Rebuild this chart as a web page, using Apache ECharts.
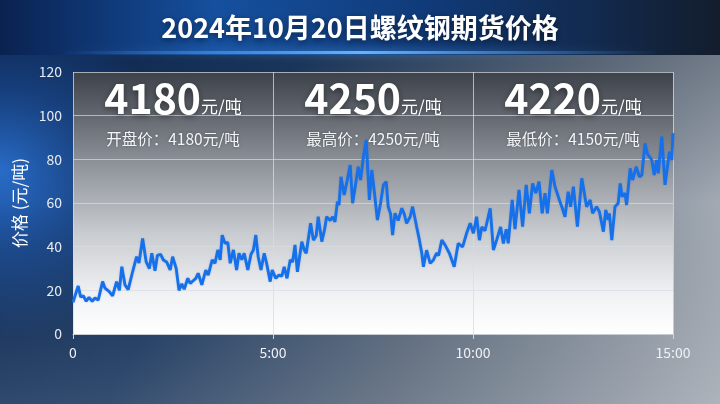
<!DOCTYPE html>
<html>
<head>
<meta charset="utf-8">
<script src="https://cdn.jsdelivr.net/npm/echarts@6/dist/echarts.min.js"></script>
<style>
html,body{margin:0;padding:0;background:#0c2550;}
#chart{width:720px;height:404px;}
</style>
</head>
<body>
<div id="chart"></div>
<script>
// ---- data ----
const chartTitle = '2024年10月20日螺纹钢期货价格';
const yAxisName = '价格 (元/吨)';
const xTicks = [0, 5, 10, 15];
const xTickLabels = ['0', '5:00', '10:00', '15:00'];
const yTicks = [0, 20, 40, 60, 80, 100, 120];
const bigValues = ['4180', '4250', '4220'];
const bigUnit = '元/吨';
const subLabels = ['开盘价：4180元/吨', '最高价：4250元/吨', '最低价：4150元/吨'];

const times = [
  0, 0.06, 0.13, 0.19, 0.26, 0.33, 0.40, 0.48, 0.55, 0.63, 0.74, 0.80, 0.90, 0.99, 1.09, 1.16, 1.22, 1.30, 1.38, 1.49,
  1.59, 1.65, 1.74, 1.83, 1.91, 1.97, 2.05, 2.11, 2.19, 2.26, 2.34, 2.43, 2.49, 2.58, 2.65, 2.72, 2.78, 2.87, 2.93, 3.01,
  3.07, 3.13, 3.22, 3.32, 3.38, 3.48, 3.55, 3.62, 3.68, 3.73, 3.80, 3.87, 3.93, 4.01, 4.09, 4.15, 4.22, 4.28, 4.37, 4.45,
  4.51, 4.57, 4.63, 4.70, 4.78, 4.84, 4.93, 4.98, 5.07, 5.15, 5.22, 5.28, 5.35, 5.43, 5.49, 5.55, 5.61, 5.72, 5.78, 5.83,
  5.94, 6.01, 6.08, 6.13, 6.22, 6.29, 6.34, 6.43, 6.49, 6.55, 6.61, 6.65, 6.70, 6.78, 6.85, 6.93, 6.99, 7.06, 7.13, 7.19,
  7.26, 7.33, 7.41, 7.47, 7.54, 7.61, 7.69, 7.76, 7.83, 7.88, 7.94, 7.99, 8.05, 8.13, 8.22, 8.28, 8.34, 8.43, 8.49, 8.59,
  8.65, 8.72, 8.76, 8.84, 8.93, 9.01, 9.09, 9.14, 9.22, 9.30, 9.41, 9.53, 9.63, 9.74, 9.84, 9.93, 10.01, 10.09, 10.16, 10.22,
  10.30, 10.35, 10.43, 10.51, 10.59, 10.69, 10.76, 10.83, 10.88, 10.98, 11.05, 11.15, 11.24, 11.33, 11.41, 11.49, 11.57, 11.65, 11.73, 11.80,
  11.86, 11.97, 12.05, 12.16, 12.22, 12.30, 12.38, 12.44, 12.51, 12.61, 12.72, 12.84, 12.93, 12.99, 13.09, 13.16, 13.26, 13.32, 13.38, 13.41,
  13.47, 13.55, 13.63, 13.68, 13.73, 13.80, 13.84, 13.93, 13.99, 14.08, 14.16, 14.22, 14.30, 14.36, 14.41, 14.47, 14.53, 14.59, 14.63, 14.72,
  14.80, 14.84, 14.91, 14.97, 15.00
];
const prices = [
  14.5, 18, 22, 17, 17.5, 15, 16.8, 15, 16.5, 15.5, 24, 21, 19.5, 17.5, 24, 20, 30.8, 22.5, 20.3, 28.5,
  35.4, 32.5, 43.8, 33, 30, 37, 29, 36, 36.5, 33.9, 33, 29.3, 35.4, 30, 20, 23, 20.5, 25.5, 23.2, 24.5,
  25.5, 27.8, 22.5, 29.3, 27, 33.9, 32.4, 38.5, 33.9, 45.3, 41.5, 42, 32.4, 38.5, 29.3, 37, 34, 37, 29.3, 36.5,
  38.5, 45.3, 35.4, 29.3, 37, 32.4, 24, 29.3, 25.5, 27, 26.5, 30.8, 25.5, 33.9, 33, 40.8, 28.5, 42.3, 38.5, 37,
  50.7, 43, 45, 53.7, 42.3, 48, 53.7, 52, 53.7, 51.4, 60.6, 59, 72, 63.7, 70, 77.4, 59.9, 68, 76.6, 70.5,
  81.2, 88.9, 61.4, 75.1, 64, 52.2, 60, 68.3, 69.8, 58.3, 55, 45.3, 55.3, 52, 57.6, 55, 50.7, 53.7, 58.3, 49.2,
  44, 37, 30.8, 38.4, 32.4, 33.9, 37, 36, 43, 40.8, 37, 30.8, 41.5, 39.9, 46.1, 50.7, 46.1, 53.7, 43, 49,
  47.3, 48, 57.6, 38.5, 43, 49, 41.5, 48, 41.5, 61.4, 48, 66, 49.2, 68.3, 55.3, 69, 64.5, 69.8, 55.3, 64.5,
  55.3, 75.1, 67.5, 61.4, 58.3, 53.7, 65.2, 58.3, 67.5, 49.2, 71.3, 58.3, 61.4, 55.3, 58.3, 56, 46.9, 56.8, 52.2, 55.3,
  43, 58.3, 59.9, 69, 62.9, 64.5, 59.1, 75.9, 70.5, 76.6, 72, 72.8, 87.3, 82.7, 81.2, 79.7, 72.8, 79.7, 73.6, 90.4,
  68.3, 69, 83.5, 79.7, 92
];
// --------------------------------------

const seriesData = times.map((t, i) => [t, prices[i]]);
const FONT = '"Noto Sans CJK SC", "Noto Sans", sans-serif';
const chart = echarts.init(document.getElementById('chart'), null, {renderer: 'canvas'});

const colCenters = [173, 373, 573];
const overlay = [];
bigValues.forEach((v, i) => {
  overlay.push({
    type: 'text', x: colCenters[i], y: 119, z: 100,
    style: {
      text: '{a|' + v + '}{b|' + bigUnit + '}',
      align: 'center', verticalAlign: 'bottom',
      rich: {
        a: {fontSize: 41, fontWeight: 'bold', fill: '#ffffff', fontFamily: FONT, verticalAlign: 'bottom', lineHeight: 46,
            textShadowColor: 'rgba(0,0,0,0.45)', textShadowBlur: 6, textShadowOffsetY: 2},
        b: {fontSize: 17, fill: '#ffffff', fontFamily: FONT, verticalAlign: 'bottom', lineHeight: 46, padding: [0, 0, 4, 0],
            textShadowColor: 'rgba(0,0,0,0.4)', textShadowBlur: 4}
      }
    }
  });
  overlay.push({
    type: 'text', x: colCenters[i], y: 139, z: 100,
    style: {
      text: subLabels[i], align: 'center', verticalAlign: 'middle',
      fontSize: 15.5, fill: '#f2f4f7', fontFamily: FONT,
      textShadowColor: 'rgba(0,0,0,0.35)', textShadowBlur: 3
    }
  });
});

const bgElements = [
  {type: 'rect', z: -10, silent: true, shape: {x: 0, y: 0, width: 720, height: 404},
   style: {fill: new echarts.graphic.LinearGradient(0, 0, 1, 1, [
     {offset: 0, color: '#0a2657'}, {offset: 0.35, color: '#1e3d66'}, {offset: 0.65, color: '#6a7787'}, {offset: 1, color: '#bfc4ca'}])}},
  {type: 'rect', z: -9, silent: true, shape: {x: 0, y: 0, width: 720, height: 404},
   style: {fill: new echarts.graphic.RadialGradient(0.0, 0.42, 0.42, [
     {offset: 0, color: 'rgba(45,120,220,0.9)'}, {offset: 0.5, color: 'rgba(40,110,210,0.4)'}, {offset: 1, color: 'rgba(40,115,215,0)'}])}},
  {type: 'rect', z: -9, silent: true, shape: {x: 0, y: 0, width: 720, height: 404},
   style: {fill: new echarts.graphic.LinearGradient(0, 0, 0, 1, [
     {offset: 0, color: 'rgba(10,20,40,0.3)'}, {offset: 0.5, color: 'rgba(10,20,40,0)'}, {offset: 1, color: 'rgba(120,130,145,0.25)'}])}},
  {type: 'rect', z: -8, silent: true, shape: {x: 0, y: 0, width: 720, height: 55},
   style: {fill: new echarts.graphic.LinearGradient(0, 0, 1, 0, [
     {offset: 0, color: '#0a2250'}, {offset: 0.3, color: '#15509f'}, {offset: 0.6, color: '#103a78'}, {offset: 1, color: '#131d2d'}])}},
  {type: 'rect', z: -7, silent: true, shape: {x: 60, y: 51, width: 600, height: 3},
   style: {fill: new echarts.graphic.LinearGradient(0, 0, 1, 0, [
     {offset: 0, color: 'rgba(70,160,255,0)'}, {offset: 0.5, color: 'rgba(110,190,255,0.9)'}, {offset: 1, color: 'rgba(70,160,255,0)'}]),
    shadowColor: 'rgba(90,170,255,0.8)', shadowBlur: 8}}
];

const option = {
  backgroundColor: 'transparent',
  animation: false,
  title: {
    text: chartTitle, left: 'center', top: 9,
    textStyle: {color: '#ffffff', fontSize: 27, fontWeight: 'bold', fontFamily: FONT,
      textShadowColor: 'rgba(0,0,0,0.5)', textShadowBlur: 6, textShadowOffsetY: 2}
  },
  grid: {
    left: 73, right: 47, top: 72, bottom: 70, show: true, borderWidth: 0,
    backgroundColor: new echarts.graphic.LinearGradient(0, 0, 0, 1, [
      {offset: 0, color: '#3d424a'}, {offset: 0.35, color: '#8e939a'}, {offset: 0.62, color: '#c9ccd0'},
      {offset: 0.85, color: '#f1f2f4'}, {offset: 1, color: '#ffffff'}])
  },
  xAxis: {
    type: 'value', min: 0, max: 15, interval: 5,
    axisLine: {show: true, lineStyle: {color: '#c8cdd4', width: 1}},
    axisTick: {show: true, length: 5, lineStyle: {color: '#d0d5dc'}},
    axisLabel: {color: '#eef1f5', fontSize: 14, fontFamily: FONT, margin: 12,
      formatter: v => { const k = xTicks.indexOf(v); return k >= 0 ? xTickLabels[k] : ''; }},
    splitLine: {show: true, lineStyle: {color: 'rgba(215,220,228,0.75)', width: 1}}
  },
  yAxis: {
    type: 'value', min: 0, max: 120, interval: 20,
    name: yAxisName, nameLocation: 'middle', nameGap: 43,
    nameTextStyle: {color: '#ffffff', fontSize: 17, fontFamily: FONT},
    axisLine: {show: false}, axisTick: {show: false},
    axisLabel: {color: '#e8ecf2', fontSize: 14, fontFamily: FONT, margin: 11,
      formatter: v => yTicks.indexOf(v) >= 0 ? String(v) : ''},
    splitLine: {show: true, lineStyle: {color: 'rgba(215,220,228,0.7)', width: 1}}
  },
  graphic: bgElements.concat(overlay),
  series: [{
    type: 'line', data: seriesData, showSymbol: false, smooth: false,
    lineStyle: {color: '#1670ea', width: 2.9, shadowColor: 'rgba(20,90,200,0.25)', shadowBlur: 2},
    z: 5
  }]
};
chart.setOption(option);
</script>
</body>
</html>
